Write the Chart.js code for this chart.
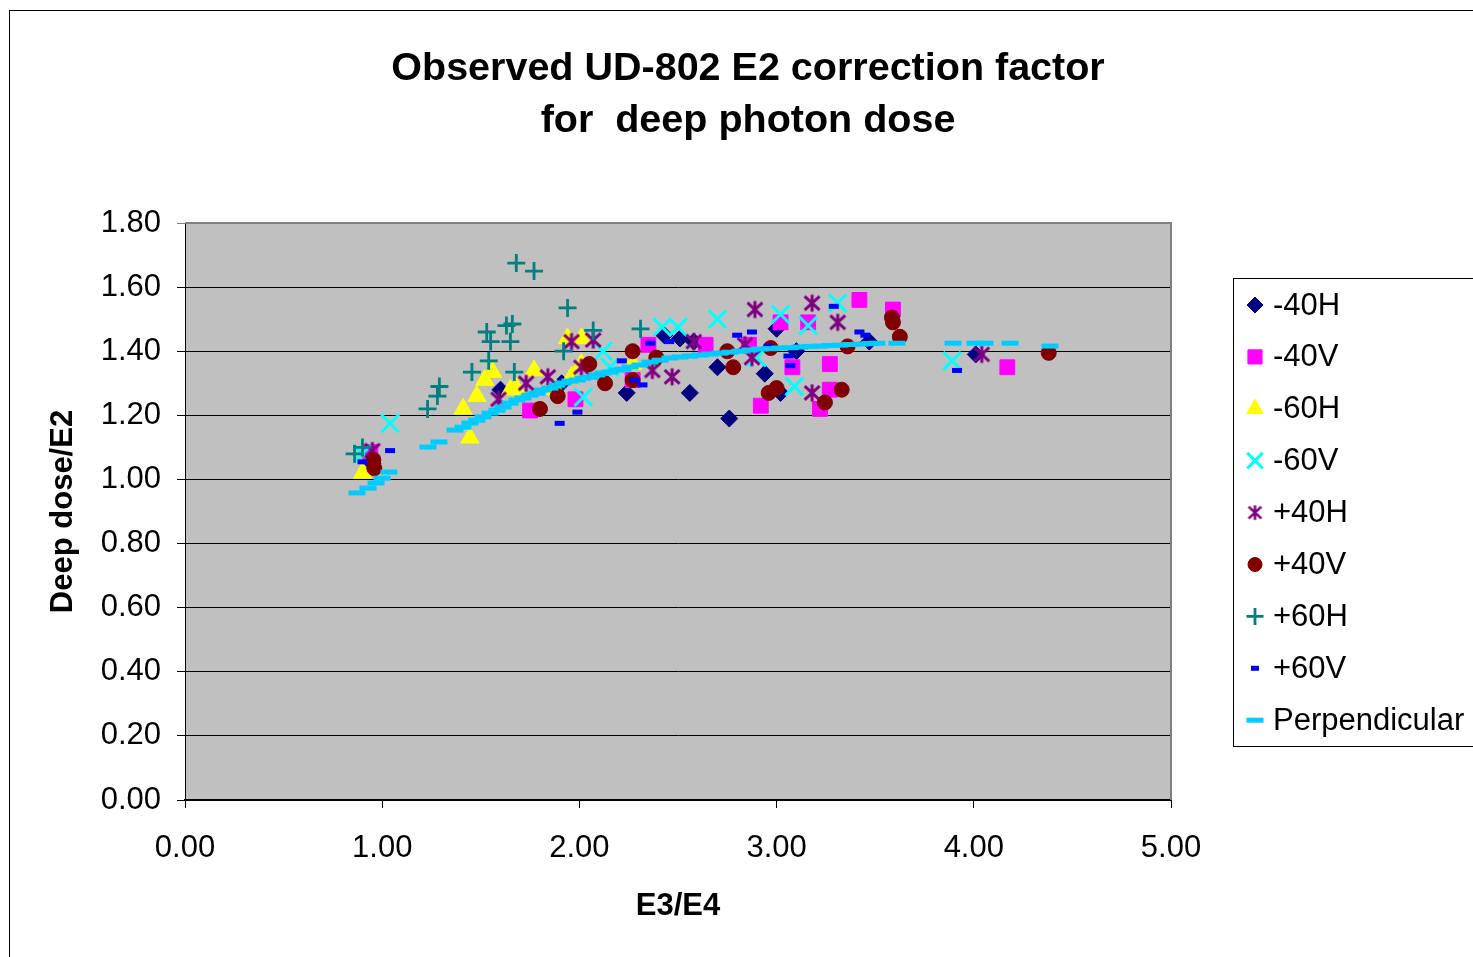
<!DOCTYPE html>
<html><head><meta charset="utf-8">
<script src="https://cdn.jsdelivr.net/npm/chart.js@4.4.1/dist/chart.umd.min.js"></script>
<style>html,body{margin:0;padding:0;background:#fff;overflow:hidden}#wrap{width:1473px;height:957px;position:relative}</style>
</head><body><div id="wrap"><canvas id="c" width="1473" height="957"></canvas></div>
<script>
const FONT = "'Liberation Sans', Arial, sans-serif";
const titleLines = ['Observed UD-802 E2 correction factor', 'for  deep photon dose'];
const xAxisTitle = 'E3/E4';
const yAxisTitle = 'Deep dose/E2';
const xTickValues = [0, 1, 2, 3, 4, 5];
const yTickValues = [0, 0.2, 0.4, 0.6, 0.8, 1.0, 1.2, 1.4, 1.6, 1.8];
const seriesNames = ['-40H', '-40V', '-60H', '-60V', '+40H', '+40V', '+60H', '+60V', 'Perpendicular'];

const m40H = [[0.95,1.05],[1.60,1.28],[1.91,1.30],[2.24,1.27],[2.43,1.45],[2.51,1.44],[2.58,1.43],[2.56,1.27],[2.70,1.35],[2.76,1.19],[2.94,1.33],[3.00,1.47],[3.02,1.27],[3.10,1.40],[3.47,1.43],[4.01,1.39]];
const m40V = [[0.94,1.085],[1.75,1.215],[1.98,1.25],[2.27,1.31],[2.35,1.42],[2.64,1.42],[2.86,1.42],[2.92,1.23],[3.02,1.49],[3.08,1.35],[3.16,1.49],[3.22,1.22],[3.27,1.36],[3.27,1.28],[3.42,1.56],[3.59,1.53],[4.17,1.35]];
const m60H = [[0.90,1.02],[1.41,1.22],[1.445,1.13],[1.48,1.26],[1.52,1.31],[1.56,1.335],[1.65,1.28],[1.68,1.285],[1.77,1.34],[1.88,1.28],[1.94,1.44],[1.96,1.32],[2.01,1.44],[2.01,1.36],[2.27,1.36]];
const m60V = [[0.90,1.08],[1.04,1.175],[2.02,1.257],[2.12,1.40],[2.155,1.35],[2.42,1.475],[2.50,1.475],[2.70,1.50],[2.90,1.38],[3.02,1.515],[3.09,1.29],[3.16,1.48],[3.31,1.55],[3.89,1.37]];
const p40H = [[0.95,1.09],[1.59,1.25],[1.73,1.30],[1.84,1.32],[1.96,1.43],[2.07,1.435],[2.01,1.35],[2.37,1.34],[2.47,1.32],[2.58,1.43],[2.84,1.42],[2.875,1.38],[2.89,1.53],[3.18,1.55],[3.18,1.27],[3.31,1.49],[4.04,1.39]];
const p40V = [[0.955,1.06],[0.96,1.035],[1.80,1.22],[1.89,1.26],[2.05,1.36],[2.13,1.30],[2.27,1.40],[2.27,1.31],[2.39,1.38],[2.75,1.40],[2.78,1.35],[2.96,1.27],[3.00,1.285],[2.97,1.41],[3.245,1.24],[3.33,1.28],[3.36,1.415],[3.585,1.505],[3.59,1.49],[3.625,1.445],[4.38,1.395]];
const p60H = [[0.86,1.08],[0.90,1.10],[1.23,1.22],[1.28,1.26],[1.29,1.29],[1.455,1.335],[1.54,1.37],[1.53,1.46],[1.55,1.43],[1.63,1.48],[1.66,1.485],[1.65,1.43],[1.67,1.335],[1.68,1.675],[1.77,1.65],[1.92,1.40],[1.94,1.535],[2.07,1.465],[2.31,1.47]];
const p60V = [[0.90,1.055],[1.04,1.09],[1.90,1.175],[1.99,1.21],[2.215,1.37],[2.28,1.31],[2.32,1.295],[2.36,1.425],[2.455,1.43],[2.80,1.45],[2.875,1.46],[2.96,1.415],[3.06,1.385],[3.07,1.355],[3.29,1.54],[3.42,1.46],[3.45,1.45],[3.915,1.34]];
const perp = [[0.872,0.958],[0.928,0.973],[0.969,0.989],[0.999,1.004],[1.034,1.023],[1.232,1.101],[1.288,1.117],[1.369,1.154],[1.41,1.163],[1.445,1.176],[1.48,1.185],[1.511,1.195],[1.547,1.207],[1.582,1.216],[1.613,1.226],[1.648,1.238],[1.684,1.248],[1.714,1.254],[1.75,1.263],[1.785,1.269],[1.815,1.279],[1.851,1.285],[1.886,1.294],[1.917,1.301],[1.952,1.307],[1.988,1.31],[2.018,1.316],[2.054,1.319],[2.089,1.326],[2.12,1.332],[2.155,1.335],[2.191,1.341],[2.221,1.344],[2.257,1.351],[2.307,1.357],[2.358,1.366],[2.409,1.372],[2.459,1.379],[2.51,1.382],[2.561,1.385],[2.612,1.388],[2.662,1.391],[2.713,1.394],[2.764,1.397],[2.814,1.40],[2.865,1.404],[2.916,1.407],[2.967,1.408],[3.017,1.41],[3.068,1.411],[3.119,1.413],[3.169,1.415],[3.22,1.416],[3.271,1.418],[3.321,1.419],[3.372,1.421],[3.423,1.422],[3.474,1.424],[3.509,1.425],[3.61,1.425],[3.895,1.425],[4.006,1.425],[4.057,1.425],[4.184,1.425],[4.386,1.416]];

const seriesData = [m40H, m40V, m60H, m60V, p40H, p40V, p60H, p60V, perp];

function makeStar(size, color, lw) {
  const c = document.createElement('canvas');
  c.width = size; c.height = size;
  const g = c.getContext('2d');
  g.strokeStyle = color; g.lineWidth = lw;
  const h = size / 2, r = h - lw / 2;
  g.beginPath();
  g.moveTo(h, h - r); g.lineTo(h, h + r);
  g.moveTo(h - r * 0.88, h - r * 0.82); g.lineTo(h + r * 0.88, h + r * 0.82);
  g.moveTo(h + r * 0.88, h - r * 0.82); g.lineTo(h - r * 0.88, h + r * 0.82);
  g.stroke();
  return c;
}
const starImg = makeStar(20, '#800080', 3);
const starLegend = makeStar(17, '#800080', 2.6);

const styles = [
  {style: 'rectRot', r: 8.5, fill: '#000080', stroke: '#000080', bw: 1, lr: 8},
  {style: 'rect', r: 10.5, fill: '#FF00FF', stroke: '#FF00FF', bw: 1, lr: 10},
  {style: 'triangle', r: 10.5, fill: '#FFFF00', stroke: '#FFFF00', bw: 1, lr: 9.5},
  {style: 'crossRot', r: 12.5, fill: '#00FFFF', stroke: '#00FFFF', bw: 3, lr: 11},
  {style: starImg, r: 10, fill: '#800080', stroke: '#800080', bw: 1, lr: 8, legendImg: starLegend},
  {style: 'circle', r: 7.5, fill: '#800000', stroke: '#800000', bw: 1, lr: 7},
  {style: 'cross', r: 9, fill: '#008080', stroke: '#008080', bw: 2.8, lr: 8.5},
  {style: 'line', r: 5, fill: '#0000FF', stroke: '#0000FF', bw: 5, lr: 4},
  {style: 'line', r: 8.5, fill: '#00CCFF', stroke: '#00CCFF', bw: 5, lr: 8.5}
];

const datasets = seriesNames.map((name, i) => ({
  label: name,
  data: seriesData[i].map(p => ({x: p[0], y: p[1]})),
  showLine: false,
  order: seriesNames.length - i,
  pointStyle: styles[i].style,
  pointRadius: styles[i].r,
  pointHoverRadius: styles[i].r,
  pointBackgroundColor: styles[i].fill,
  pointBorderColor: styles[i].stroke,
  pointBorderWidth: styles[i].bw,
  backgroundColor: styles[i].fill,
  borderColor: styles[i].stroke
}));

const decorPlugin = {
  id: 'decor',
  beforeDraw(chart) {
    const {ctx, chartArea: a} = chart;
    ctx.save();
    ctx.fillStyle = '#ffffff';
    ctx.fillRect(0, 0, chart.width, chart.height);
    ctx.fillStyle = '#C0C0C0';
    ctx.fillRect(a.left, a.top, a.right - a.left, a.bottom - a.top);
    ctx.restore();
  },
  beforeDatasetsDraw(chart) {
    const {ctx, chartArea: a} = chart;
    ctx.save();
    ctx.strokeStyle = '#808080';
    ctx.lineWidth = 2;
    ctx.beginPath();
    ctx.moveTo(a.left, a.top); ctx.lineTo(a.right, a.top); ctx.lineTo(a.right, a.bottom);
    ctx.stroke();
    ctx.restore();
  },
  afterDraw(chart) {
    const ctx = chart.ctx;
    ctx.save();
    ctx.strokeStyle = '#000';
    ctx.lineWidth = 1;
    ctx.strokeRect(9.5, 10.5, 2000, 2000);
    ctx.fillStyle = '#000';
    ctx.font = 'bold 39.5px ' + FONT;
    ctx.textAlign = 'center';
    ctx.textBaseline = 'alphabetic';
    ctx.fillText(titleLines[0], 748, 80);
    ctx.fillText(titleLines[1], 748, 132);
    ctx.strokeRect(1233.5, 278.5, 500, 468);
    ctx.font = '31px ' + FONT;
    ctx.textAlign = 'left';
    ctx.textBaseline = 'middle';
    const drawPoint = Chart.helpers && Chart.helpers.drawPoint;
    seriesNames.forEach((name, i) => {
      const y = 305 + i * 51.9;
      const s = styles[i];
      ctx.save();
      ctx.fillStyle = s.fill;
      ctx.strokeStyle = s.stroke;
      ctx.lineWidth = s.bw;
      if (s.legendImg) {
        ctx.drawImage(s.legendImg, 1255 - s.legendImg.width / 2, y - s.legendImg.height / 2);
      } else if (drawPoint) {
        drawPoint(ctx, {pointStyle: s.style, radius: s.lr, rotation: 0, borderWidth: s.bw}, 1255, y);
      }
      ctx.restore();
      ctx.fillStyle = '#000';
      ctx.fillText(name, 1273, y + 1);
    });
    ctx.restore();
  }
};

new Chart(document.getElementById('c'), {
  type: 'scatter',
  data: {datasets},
  plugins: [decorPlugin],
  options: {
    responsive: false,
    animation: false,
    events: [],
    layout: {padding: {left: 0, top: 223, right: 302, bottom: 0}},
    plugins: {legend: {display: false}, tooltip: {enabled: false}, title: {display: false}},
    scales: {
      x: {
        type: 'linear', min: 0, max: 5,
        afterBuildTicks: s => { s.ticks = xTickValues.map(v => ({value: v})); },
        afterFit: s => { s.height = 157; },
        ticks: {callback: v => Number(v).toFixed(2), color: '#000', font: {family: FONT, size: 31}, padding: 22, maxRotation: 0},
        grid: {drawOnChartArea: false, drawTicks: true, tickLength: 8, color: '#000', lineWidth: 1},
        border: {display: true, color: '#000', width: 2},
        title: {display: true, text: xAxisTitle, color: '#000', font: {family: FONT, size: 31, weight: 'bold', lineHeight: 1.2}, padding: {top: 0, bottom: 32}}
      },
      y: {
        type: 'linear', min: 0, max: 1.8,
        afterBuildTicks: s => { s.ticks = yTickValues.map(v => ({value: v})); },
        afterFit: s => { s.width = 185; },
        ticks: {callback: v => Number(v).toFixed(2), color: '#000', font: {family: FONT, size: 31}, padding: 16},
        grid: {drawOnChartArea: true, drawTicks: true, tickLength: 8, lineWidth: 1,
               color: c => (c.tick && Math.abs(c.tick.value - 1.8) < 1e-9) ? '#808080' : '#000'},
        border: {display: true, color: '#000', width: 1},
        title: {display: true, text: yAxisTitle, color: '#000', font: {family: FONT, size: 31, weight: 'bold', lineHeight: 1.2}, padding: {top: 45, bottom: 0}}
      }
    }
  }
});
</script>
</body></html>
